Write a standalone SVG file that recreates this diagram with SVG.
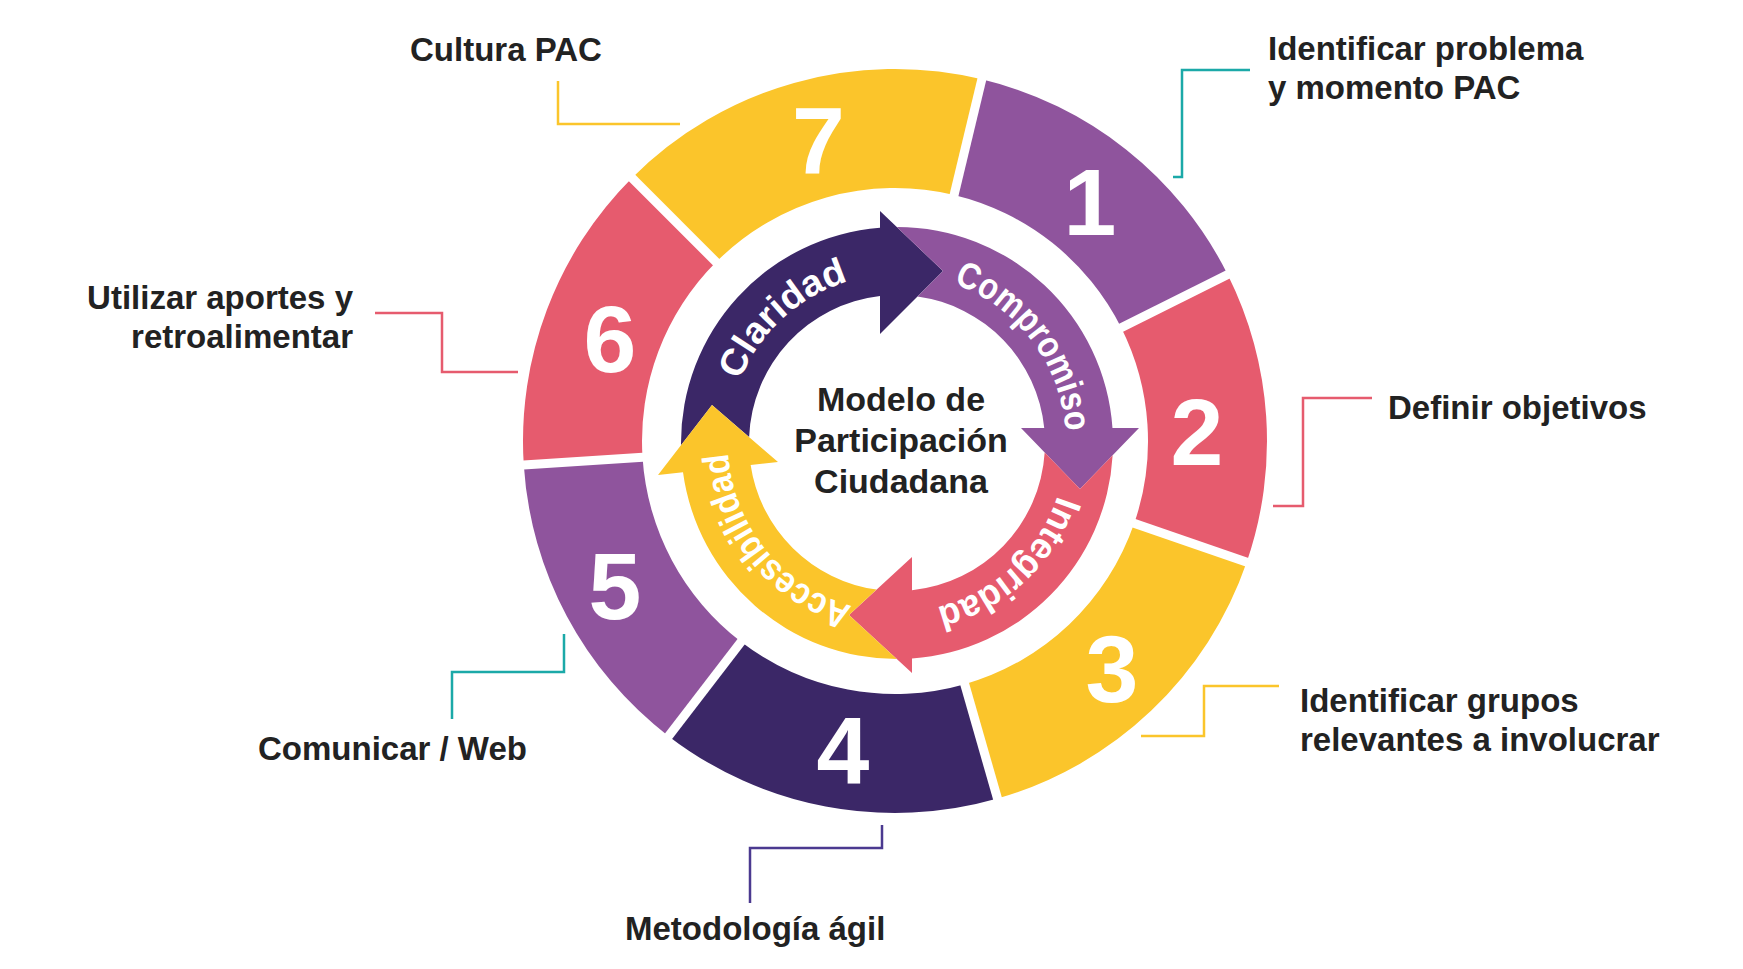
<svg xmlns="http://www.w3.org/2000/svg" width="1743" height="969" viewBox="0 0 1743 969">
<defs>
<style>
.lbl{font-family:"Liberation Sans",Arial,sans-serif;font-weight:700;font-size:33px;fill:#222}
.ctr{font-family:"Liberation Sans",Arial,sans-serif;font-weight:700;font-size:34px;fill:#222;text-anchor:middle}
.num{font-family:"Liberation Sans",Arial,sans-serif;font-weight:700;font-size:95px;fill:#fff;text-anchor:middle}
.arc{font-family:"Liberation Sans",Arial,sans-serif;font-weight:700;font-size:37px;fill:#fff;text-anchor:middle}
.purple{fill:#8F549D}
.pink{fill:#E65B6E}
.yellow{fill:#FBC52B}
.navy{fill:#3B2767}
.gap{stroke:#fff;stroke-width:9;fill:none}
.con{fill:none;stroke-width:2.5}
.c-teal{stroke:#1BA9A8}
.c-pink{stroke:#E65B6E}
.c-yellow{stroke:#FBC52B}
.c-navy{stroke:#4B3A90}
</style>
<path id="tp-claridad" d="M732.0,479.58 A169,169 0 0 1 947.82,281.82"/>
<path id="tp-compromiso" d="M875.82,275.33 A169,169 0 0 1 1052.79,508.49"/>
<path id="tp-integridad" d="M1061.86,405.85 A169,169 0 0 1 846.74,604.35"/>
<path id="tp-accesibilidad" d="M923.44,609.92 A169,169 0 0 1 739.22,382.44"/>
</defs>
<rect width="1743" height="969" fill="#fff"/>

<g id="segment-1">
<path class="purple" d="M981.84,79.28 A372,372 0 0 1 1227.62,274.43 L1121.22,327.72 A253,253 0 0 0 954.06,194.99 Z"/>
<text class="num" x="1090" y="235">1</text>
</g>
<g id="segment-2">
<path class="pink" d="M1227.62,274.43 A372,372 0 0 1 1246.73,562.11 L1134.22,523.37 A253,253 0 0 0 1121.22,327.72 Z"/>
<text class="num" x="1197" y="465">2</text>
</g>
<g id="segment-3">
<path class="yellow" d="M1246.73,562.11 A372,372 0 0 1 997.54,798.59 L964.74,684.20 A253,253 0 0 0 1134.22,523.37 Z"/>
<text class="num" x="1112" y="702">3</text>
</g>
<g id="segment-4">
<path class="navy" d="M997.54,798.59 A372,372 0 0 1 668.54,736.13 L740.98,641.72 A253,253 0 0 0 964.74,684.20 Z"/>
<text class="num" x="843" y="783">4</text>
</g>
<g id="segment-5">
<path class="purple" d="M668.54,736.13 A372,372 0 0 1 523.77,465.01 L642.53,457.33 A253,253 0 0 0 740.98,641.72 Z"/>
<text class="num" x="615" y="619">5</text>
</g>
<g id="segment-6">
<path class="pink" d="M523.77,465.01 A372,372 0 0 1 631.96,177.96 L716.10,262.10 A253,253 0 0 0 642.53,457.33 Z"/>
<text class="num" x="610" y="372">6</text>
</g>
<g id="segment-7">
<path class="yellow" d="M631.96,177.96 A372,372 0 0 1 981.84,79.28 L954.06,194.99 A253,253 0 0 0 716.10,262.10 Z"/>
<text class="num" x="818.5" y="174">7</text>
</g>
<g id="ring-dividers" class="gap">
<line x1="952.2" y1="202.8" x2="983.7" y2="71.5"/>
<line x1="1114.1" y1="331.3" x2="1234.8" y2="270.9"/>
<line x1="1126.7" y1="520.8" x2="1254.3" y2="564.7"/>
<line x1="962.5" y1="676.5" x2="999.7" y2="806.3"/>
<line x1="745.9" y1="635.4" x2="663.7" y2="742.5"/>
<line x1="650.5" y1="456.8" x2="515.8" y2="465.5"/>
<line x1="721.8" y1="267.8" x2="626.3" y2="172.3"/>
</g>

<g id="arrow-claridad">
<path class="navy" d="M681.01,445.17 A216,216 0 0 1 880,227.67 L880,211 L943,271 L880,334 L880,295.98 A148,148 0 0 0 749.12,437.06 L712,405 Z"/>
<text class="arc"><textPath href="#tp-claridad" startOffset="50%" textLength="152" lengthAdjust="spacingAndGlyphs">Claridad</textPath></text>
</g>
<g id="arrow-compromiso">
<path class="purple" d="M896.8,227.0 A216,216 0 0 1 1112.48,428 L1139,428 L1080,489 L1021,428 L1044.24,428 A148,148 0 0 0 917.56,296.44 L943,271 Z"/>
<text class="arc"><textPath href="#tp-compromiso" startOffset="50%" textLength="196" lengthAdjust="spacingAndGlyphs">Compromiso</textPath></text>
</g>
<g id="arrow-integridad">
<path class="pink" d="M1112.65,455.24 A216,216 0 0 1 912,658.48 L912,673 L849,615 L912,557 L912,590.24 A148,148 0 0 0 1044.69,452.50 L1080,489 Z"/>
<text class="arc"><textPath href="#tp-integridad" startOffset="50%" textLength="172" lengthAdjust="spacingAndGlyphs">Integridad</textPath></text>
</g>
<g id="arrow-accesibilidad">
<path class="yellow" d="M896.79,659.0 A216,216 0 0 1 683.0,472.29 L658,475 L712,405 L778,462 L750.64,464.96 A148,148 0 0 0 876.60,589.59 L849,615 Z"/>
<text class="arc"><textPath href="#tp-accesibilidad" startOffset="50%" textLength="210" lengthAdjust="spacingAndGlyphs">Accesibilidad</textPath></text>
</g>

<g id="center">
<text class="ctr" x="901" y="411">Modelo de</text>
<text class="ctr" x="901" y="452">Participación</text>
<text class="ctr" x="901" y="493">Ciudadana</text>
</g>

<g id="connectors">
<path class="con c-teal" d="M1250,70 H1182 V177 H1173"/>
<path class="con c-pink" d="M1372,398 H1303 V506 H1273"/>
<path class="con c-yellow" d="M1279,686 H1204 V736 H1141"/>
<path class="con c-navy" d="M882,825 V848 H750 V903"/>
<path class="con c-teal" d="M564,634 V672 H452 V719"/>
<path class="con c-pink" d="M375,313 H442 V372 H518"/>
<path class="con c-yellow" d="M558,81 V124 H680"/>
</g>

<g id="label-1">
<text class="lbl" x="1268" y="60">Identificar problema</text>
<text class="lbl" x="1268" y="99">y momento PAC</text>
</g>
<g id="label-2">
<text class="lbl" x="1388" y="419">Definir objetivos</text>
</g>
<g id="label-3">
<text class="lbl" x="1300" y="712">Identificar grupos</text>
<text class="lbl" x="1300" y="751">relevantes a involucrar</text>
</g>
<g id="label-4">
<text class="lbl" x="625" y="940">Metodología ágil</text>
</g>
<g id="label-5">
<text class="lbl" x="258" y="760">Comunicar / Web</text>
</g>
<g id="label-6">
<text class="lbl" x="353" y="309" text-anchor="end">Utilizar aportes y</text>
<text class="lbl" x="353" y="348" text-anchor="end">retroalimentar</text>
</g>
<g id="label-7">
<text class="lbl" x="410" y="61">Cultura PAC</text>
</g>
</svg>
